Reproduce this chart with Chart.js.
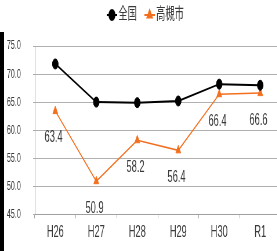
<!DOCTYPE html>
<html>
<head>
<meta charset="utf-8">
<script src="https://cdn.jsdelivr.net/npm/chart.js@4/dist/chart.umd.min.js"></script>
<style>
  html, body { margin: 0; padding: 0; width: 277px; height: 251px; overflow: hidden; background: #fff; }
  /* the reference image is squeezed horizontally, so the chart is drawn wide and scaled in x */
  #wrap { position: absolute; left: 0; top: 0; width: 490px; height: 251px; transform: scaleX(0.58); transform-origin: 0 0; }
  #edge { position: absolute; left: 0; top: 32px; width: 4px; height: 219px; background: #000; }
</style>
</head>
<body>
<div id="wrap"><canvas id="chart"></canvas></div>
<div id="edge"></div>
<script>
const categories = ["H26", "H27", "H28", "H29", "H30", "R1"];
const zenkoku = [71.8, 65.0, 64.9, 65.2, 68.2, 68.0];
const takatsuki = [63.4, 50.9, 58.2, 56.4, 66.4, 66.6];
const seriesNames = ["全国", "高槻市"];
const yMin = 45, yMax = 75, yStep = 5;

const BLACK = "#000000";
const ORANGE = "#f37021";
const TEXT = "#3a3a3a";
const FONT = "'Liberation Sans', Arial, 'Noto Sans CJK JP', sans-serif";

// value labels under the orange points
const valueLabels = {
    id: "valueLabels",
    afterDatasetsDraw(chart) {
        const ctx = chart.ctx;
        const meta = chart.getDatasetMeta(1);
        ctx.save();
        ctx.fillStyle = TEXT;
        ctx.font = "16px " + FONT;
        ctx.textAlign = "center";
        ctx.textBaseline = "middle";
        meta.data.forEach((pt, i) => {
            ctx.fillText(takatsuki[i].toFixed(1), pt.x - 3, pt.y + 27);
        });
        ctx.restore();
    }
};

// legend with line + marker, like the original
const lineLegend = {
    id: "lineLegend",
    afterDraw(chart) {
        const ctx = chart.ctx;
        const items = [
            { name: seriesNames[0], color: BLACK, style: "circle", x: 193, tx: 204 },
            { name: seriesNames[1], color: ORANGE, style: "triangle", x: 258, tx: 269 }
        ];
        const y = 15;
        ctx.save();
        items.forEach(it => {
            ctx.strokeStyle = it.color;
            ctx.lineWidth = 2;
            ctx.beginPath();
            ctx.moveTo(it.x - 9, y);
            ctx.lineTo(it.x + 9, y);
            ctx.stroke();
            ctx.fillStyle = it.color;
            Chart.helpers.drawPoint(ctx, { pointStyle: it.style, radius: 5, rotation: 0, borderWidth: 1 }, it.x, y);
            ctx.fill();
            ctx.fillStyle = TEXT;
            ctx.font = "16px " + FONT;
            ctx.textAlign = "left";
            ctx.textBaseline = "middle";
            ctx.fillText(it.name, it.tx, y);
        });
        ctx.restore();
    }
};

new Chart(document.getElementById("chart"), {
    type: "line",
    data: {
        labels: categories,
        datasets: [
            {
                label: seriesNames[0],
                data: zenkoku,
                borderColor: BLACK,
                backgroundColor: BLACK,
                borderWidth: 2,
                pointStyle: "circle",
                pointRadius: 5,
                pointBorderWidth: 1,
                tension: 0
            },
            {
                label: seriesNames[1],
                data: takatsuki,
                borderColor: ORANGE,
                backgroundColor: ORANGE,
                borderWidth: 1.5,
                pointStyle: "triangle",
                pointRadius: 5,
                pointBorderWidth: 1,
                tension: 0
            }
        ]
    },
    options: {
        responsive: true,
        maintainAspectRatio: false,
        animation: false,
        devicePixelRatio: 1,
        layout: { padding: { top: 46, right: 4, bottom: 0, left: 0 } },
        plugins: { legend: { display: false }, tooltip: { enabled: false } },
        scales: {
            x: {
                offset: true,
                grid: { offset: true, drawOnChartArea: false, drawTicks: true, tickLength: 4, color: "#a0a0a0" },
                border: { display: true, color: "#a0a0a0" },
                ticks: { color: TEXT, font: { family: FONT, size: 16 }, padding: 5, maxRotation: 0 },
                afterFit(scale) { scale.height = 36.7; }
            },
            y: {
                min: yMin,
                max: yMax,
                grid: { color: "#b0b0b0", tickLength: 3 },
                border: { display: true, color: "#a0a0a0" },
                ticks: {
                    stepSize: yStep,
                    color: TEXT,
                    font: { family: FONT, size: 12.5 },
                    padding: 21,
                    callback: v => v.toFixed(1)
                },
                afterFit(scale) { scale.width = 60; }
            }
        }
    },
    plugins: [valueLabels, lineLegend]
});
</script>
</body>
</html>
